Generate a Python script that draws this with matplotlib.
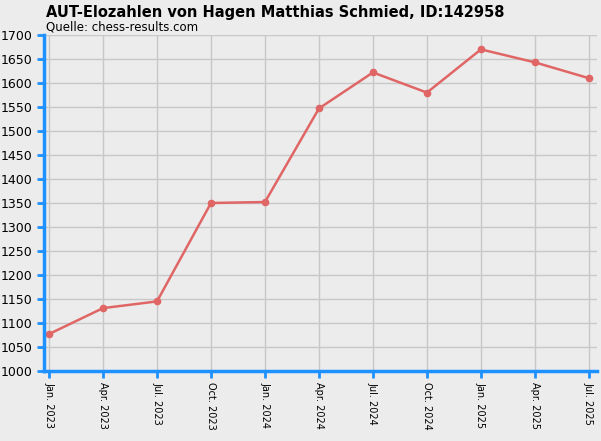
import matplotlib.pyplot as plt

labels = ["Jan. 2023", "Apr. 2023", "Jul. 2023", "Oct. 2023", "Jan. 2024", "Apr. 2024",
          "Jul. 2024", "Oct. 2024", "Jan. 2025", "Apr. 2025", "Jul. 2025"]
elo = [1077, 1131, 1145, 1350, 1352, 1547, 1622, 1580, 1670, 1643, 1610]

bg = "#ececec"
blue = "#1e90ff"
fig = plt.figure(figsize=(6.01, 4.41), dpi=100, facecolor=bg)
ax = fig.add_axes([44 / 601, 1 - 371 / 441, 553 / 601, 336 / 441], facecolor=bg)

x = list(range(len(elo)))
ax.plot(x, elo, color="#e06666", lw=1.8, marker="o", ms=4.5)

ax.set_xlim(-0.093, len(elo) - 1 + 0.15)
ax.set_ylim(1000, 1700)
ax.set_yticks(range(1000, 1701, 50))
ax.set_xticks(x)
ax.set_xticklabels(labels, rotation=-90, fontsize=7, family="DejaVu Sans")
ax.tick_params(axis="y", labelsize=9, labelcolor="black", color=blue, length=5, width=2)
ax.tick_params(axis="x", color=blue, length=5, width=2, pad=3)
ax.grid(True, color="#c8c8c8", lw=1)
for s in ["top", "right"]:
    ax.spines[s].set_visible(False)
for s in ["left", "bottom"]:
    ax.spines[s].set_color(blue)
    ax.spines[s].set_linewidth(2.5)

fig.text(46 / 601, 1 - 12 / 441, "AUT-Elozahlen von Hagen Matthias Schmied, ID:142958",
         fontsize=10.5, fontweight="bold", va="center")
fig.text(46 / 601, 1 - 27 / 441, "Quelle: chess-results.com", fontsize=8.5, va="center")

fig.savefig("out.png", dpi=100, facecolor=bg)
